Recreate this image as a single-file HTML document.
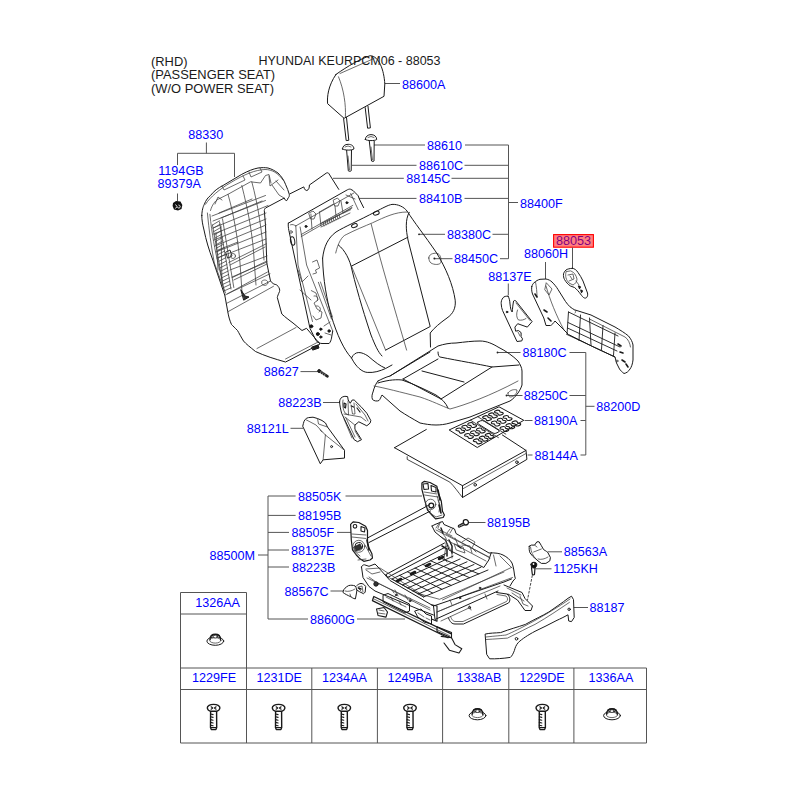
<!DOCTYPE html>
<html><head><meta charset="utf-8">
<style>
html,body{margin:0;padding:0;background:#fff;width:800px;height:800px;overflow:hidden}
svg{position:absolute;left:0;top:0}
.t{font-family:"Liberation Sans",sans-serif;font-size:12.6px;fill:#0000ff}
.h{font-family:"Liberation Sans",sans-serif;font-size:12.9px;fill:#1a1a1a}
.l{stroke:#555;stroke-width:1;fill:none}
.g{stroke:#555;stroke-width:1;fill:none}
.d{stroke:#1a1a1a;stroke-width:1;fill:none;stroke-linejoin:round;stroke-linecap:round}
.dt{stroke:#3a3a3a;stroke-width:.75;fill:none;stroke-linejoin:round;stroke-linecap:round}
.tc{text-anchor:middle}
</style></head><body>
<svg width="800" height="800" viewBox="0 0 800 800">
<!-- header text -->
<text class="h" x="151" y="65.6">(RHD)</text>
<text class="h" x="151" y="79.4">(PASSENGER SEAT)</text>
<text class="h" x="151" y="93.1">(W/O POWER SEAT)</text>
<text class="h" x="258.5" y="65" style="font-size:12.5px">HYUNDAI KEURPCM06 - 88053</text>

<!-- labels -->
<g class="t">
<text x="402" y="88.6">88600A</text>
<text x="427" y="149.6">88610</text>
<text x="419" y="169.8">88610C</text>
<text x="406.3" y="182.8">88145C</text>
<text x="419" y="203">88410B</text>
<text x="520" y="207.5">88400F</text>
<text x="447" y="238.8">88380C</text>
<text x="454" y="263.3">88450C</text>
<text x="524" y="258">88060H</text>
<text x="488.3" y="280.5">88137E</text>
<text x="522.5" y="357">88180C</text>
<text x="523.8" y="400">88250C</text>
<text x="534" y="425">88190A</text>
<text x="534.5" y="459.5">88144A</text>
<text x="596.3" y="410.8">88200D</text>
<text x="188.3" y="139.2">88330</text>
<text x="158.3" y="175.2">1194GB</text>
<text x="157.5" y="188.3">89379A</text>
<text x="263.8" y="376.3">88627</text>
<text x="278.2" y="407">88223B</text>
<text x="246.7" y="433.3">88121L</text>
<text x="298" y="500.6">88505K</text>
<text x="298" y="520">88195B</text>
<text x="291.5" y="537">88505F</text>
<text x="291.1" y="554.6">88137E</text>
<text x="292" y="571.6">88223B</text>
<text x="209.5" y="559.6">88500M</text>
<text x="284.5" y="595.6">88567C</text>
<text x="310" y="623.6">88600G</text>
<text x="487" y="527">88195B</text>
<text x="563.8" y="556.3">88563A</text>
<text x="553.3" y="573.3">1125KH</text>
<text x="589.5" y="612">88187</text>
<text x="195.2" y="607">1326AA</text>
<text class="tc" x="214" y="682.4">1229FE</text>
<text class="tc" x="279.2" y="682.4">1231DE</text>
<text class="tc" x="344.4" y="682.4">1234AA</text>
<text class="tc" x="410" y="682.4">1249BA</text>
<text class="tc" x="479" y="682.4">1338AB</text>
<text class="tc" x="542" y="682.4">1229DE</text>
<text class="tc" x="611" y="682.4">1336AA</text>
</g>
<!-- highlighted 88053 -->
<text x="556" y="245.2" style="font-family:'Liberation Sans',sans-serif;font-size:12.6px;fill:#0000ff">88053</text>
<rect x="553.6" y="234.6" width="39.8" height="12.6" fill="rgba(255,0,0,0.5)" stroke="#ff0000" stroke-width="1.1"/>
<!-- leader lines -->
<g class="l">
<path d="M385 83.5H400"/>
<path d="M374 145H425M465 145H508.5V258.7H500M508.5 165.3H464.5M508.5 178.3H451.5M508.5 198.4H464.5M508.5 202.5H518M508.5 234.3H492.5"/>
<path d="M352 165.3H416.5M333 178.3H403.8M359 198.4H416.5M419 234.3H445M434.4 258.7H452.5"/>
<path d="M572.5 247.5V268M545.5 262V279M508.3 283.5V295"/>
<path d="M206.4 142.5V153.3M177.5 165V153.3H234.5V177M177.5 193.5V201.5"/>
<path d="M300.5 371.6H318M323 402.5H340M290.5 428.3H303"/>
<path d="M569.5 352.5H585.8V455H580.5M569.5 395.5H585.8M580.5 420.5H585.8M585.8 406.3H594.5"/>
<path d="M497.5 352.5H520.5M506.5 395.5H522.5M524.5 420.5H532.5M527.6 455H532.5"/>
<path d="M295.6 496H268V619H308M268 515.4H295.6M268 532.4H289M268 550H289M268 567H289M258 555H268M345.5 496H422M337 532.4H354M330.5 591H344M357 619H405"/>
<path d="M467.5 522.5H485.5M547.5 551.8H562M535.5 568.8H551.5M573.8 607.5H588"/>
</g>
<circle cx="419" cy="234.3" r="0.9" fill="#222"/>
<circle cx="434.4" cy="258.6" r="1" fill="#222"/>
<circle cx="497.5" cy="352.5" r="0.9" fill="#222"/>
<circle cx="506.5" cy="395.5" r="0.9" fill="#222"/>
<!-- DRAWINGS -->
<g class="d" id="headrest">
<path d="M336,74.4 C348,66 360,59 370.2,55.7 C379,56 384,70 384.8,84 L384,96.3 L344.1,118.3 L327.6,103.7 C327,97 328,86 336,74.4Z"/>
<path class="dt" d="M338.5,76.8 C344,90 346,105 345.4,116.7"/>
<path class="dt" d="M340,73.5 L374,58.5"/>
<path d="M343.6,118.6 L346.2,140.6 L348.8,140.3 L346.5,117.5"/>
<path d="M365.2,107.6 L367.6,128.2 L370.4,127.9 L368,106.4"/>
<path d="M346.6,150 L348.3,170.8 C349,171.5 350.5,171.5 351.2,170.8 L351.5,150"/>
<path class="dt" d="M348,156 L349.5,170"/>
<path d="M342.5,149 C342.5,146 345,144.3 348.2,144.3 C351.5,144.3 354,146 353.9,149 C352,150.5 344.5,150.5 342.5,149Z" fill="#fff"/>
<path class="dt" d="M345,147 L348,146 L351,147"/>
<path d="M369.3,141 L371.5,161 C372.2,161.7 373.4,161.7 374,161 L374.2,141"/>
<path class="dt" d="M371,147 L372.5,160"/>
<path d="M365.3,139.5 C365.3,136.5 368,134.6 371,134.6 C374.3,134.6 376.7,136.5 376.7,139.5 C375,141 367,141 365.3,139.5Z" fill="#fff"/>
<path class="dt" d="M368,137.5 L371,136.5 L374,137.5"/>
</g>
<g class="d" id="p88330">
<path d="M201.8,215.5 C202,210 203,207 204.3,204.3 C206,200 208,197.5 210.5,195.5 C214,191 218,188 223,185.5 L241.8,174.3 C248,171 253,169 258,168 C262,167.5 265,167.5 268,168 C272,169 275,171 278,173 C281,176 284,180 285.5,184.3 C287,188 288.5,191 289.3,194.3 C289.5,196 289,197.5 288,198 C287.5,200 287,200.5 286.8,200.5 C285.5,200.5 284.5,199.5 284.3,198 L265.5,208 C264.5,209 264.3,210 264.3,210.5 L265.5,225.5 L266.8,263 L270.5,281 L273.5,284 C276,284.5 277.5,285 278,286.3 C279.5,288 280,290 279.5,291.5 C278.5,294 277.5,296 277.3,297.5 L281.8,314 C285,317 289,320 293,323 L302,330.5 L306.5,328.3 L320,344 L290,359.8 L285.5,362 C275,359 265,356 255.5,351.5 C250,347 246,344 243.5,341 C241,337 239,333 237.5,330.5 C235,328 233,326 231.5,324.5 C229.5,320 228.5,316 227.8,311.8 L224.8,295.3 L212.8,260 C209,250 206,240 204,230 C202.5,224 201.8,220 201.8,215.5Z"/>
<path class="dt" d="M205.5,204.3 C210,197 220,189 230,183 C245,174 255,170 265,169.5 C272,169.5 278,173 283,180"/>
<path class="dt" d="M207.4,213 C209,230 211,245 214.3,263 L225.5,293 M209.9,214.3 C212,235 215,250 218,263 L222,280"/>
<path class="dt" d="M285.5,359 L318.5,341.8 M257,348.5 L296,327.5"/>
<path class="dt" d="M224.8,295.3 L267.5,272 M226.3,303.5 L270.5,281 M227.8,311.8 L273.5,286.3"/>
<path class="dt" d="M210.5,210.5 C212,205 215,201 218,199.3 L228,194.3 L250.5,181.8 L260.5,183 L265.5,175.5 L269,174.5 L271,183 M215,204 L218,197 L222,200 M269,176 L270,186 L278,180"/>
<path d="M212,216 L265.5,195.5 M213,221 L265.5,200.5 M213,228 L268,205.5 M213.5,234 L266,213 M214,240 L266,219 M215,246 L266,225 M216,252 L266,232 M217,258 L266,239 M218,250 L238,242 M230,270 L267,256 M232,277 L267,262 M221,226 L222,286 M216,233 L218,270" class="dt"/>
<path class="dt" d="M228,194.3 C234,215 238,240 240,263 L242,292 M241.8,185.5 C248,210 253,235 254.3,263 L256,285 M251.8,181.8 C258,205 262,230 264,260 M219,213 L252,199 M221,218 L262,201 M222,186 L224,190 L245,180 L243,176 M249,172 L251,177 L262,172 L260,168"/>
<path class="dt" d="M272,185 L279,195 L284,198 M276,181 L284,190"/>
<path class="dt" d="M212.5,225 L224,291 M219.5,222 L231,289 M212.5,225.0 L219.5,220.8 M213.1,228.3 L220.1,224.2 M213.7,231.6 L220.7,227.5 M214.2,234.9 L221.2,230.9 M214.8,238.2 L221.8,234.2 M215.4,241.5 L222.4,237.6 M215.9,244.8 L222.9,240.9 M216.5,248.1 L223.5,244.2 M217.1,251.4 L224.1,247.6 M217.7,254.7 L224.7,251.0 M218.2,258.0 L225.2,254.3 M218.8,261.3 L225.8,257.7 M219.4,264.6 L226.4,261.0 M220.0,267.9 L227.0,264.4 M220.6,271.2 L227.6,267.7 M221.1,274.5 L228.1,271.1 M221.7,277.8 L228.7,274.4 M222.3,281.1 L229.3,277.8 M222.8,284.4 L229.8,281.1 M223.4,287.7 L230.4,284.4 M224.0,291.0 L231.0,287.8"/>
<path class="dt" d="M228.8,262.5 L266.3,243.8 M230,265 L265,247 M232.5,277.5 L266.3,261.3 M233.8,280 L267,264 M227.5,293.8 L270,273.8 M222.5,218.8 C226,240 230,265 233.8,287.5"/>
<path d="M226,252 L230,250 L232,256 L228,258 Z" stroke-width=".9"/>
<path d="M241,290 L245,296 L249,297 L244,300 Z" fill="#333"/>
<circle cx="233" cy="256" r="2.5" class="dt"/>
<path class="dt" d="M262,281 C264,279 268,280 268,283 C267,286 263,286 262,284 Z"/>
</g>
<path d="M173,203 L176,201 L180.5,201.5 L182.3,205 L181.5,209 L178,210.6 L174,209.5 L172.6,206 Z" fill="#111"/>
<path d="M175.5,204.5 L177,206.5 L175.5,208.5 M178.5,205 C180,205 180.5,206.5 180,207.5 C179,208.5 177.5,208 177.5,207" stroke="#fff" stroke-width=".9" fill="none"/>

<g class="d" id="board">
<path d="M290,193.8 L303.8,186.9 C304.5,190 306,190.5 306.9,190.5 C308.5,190 309.5,188 309.4,185 L326.3,173.1 C327.5,172.5 328.5,172.8 328.8,173.5 L338.8,189.4"/>
</g>
<g class="d" id="frame">
<path d="M288.3,223.2 L347.4,189.8 C349,189 350,189 350.7,189.3 C352.5,190 354,191 355,192.5 L358.2,195.8 L359.3,199 L363.6,207.6"/>
<path d="M288.3,223.2 C288,226 288.5,228 288.8,230.2 L309,323.9 L310.1,328.6 L313.7,335.8 L316,340.5 C318,342.5 320,343.5 322,343.5 L329.1,343.5 C330.5,342 331.2,340 331.5,338.1 L332.7,331"/>
<path class="dt" d="M295.8,225.9 L353.9,193 M295.8,225.9 L298,265 L312.5,321.5 M300.1,227 L306.6,265 L332.7,331 M301.2,234.5 L352.8,205.4 M301.2,236.6 L351.7,207.6 M350.7,193.6 L358.2,209.7 M290.5,224.8 C293,224 294,225 295.8,225.9"/>
<path class="dt" d="M320.6,223.7 L350.7,209.7 M321,227 L350,213 M323,222 L324,226 M325,221 L326,225 M327,220 L328,224 M329,219 L330,223 M331,218 L332,222 M333,217 L334,221 M335,216 L336,220 M337,215 L338,219 M339,214 L340,218"/>
<path class="dt" d="M310.9,214 L312,229 M309,213 L313,211 L316,214 L314,219 L311,219 Z M333.5,200 L337.5,198 L340,201 L338,206 L335,206Z M335,206 L336,216 M319.5,212 L321,226 M319.5,212 L333.5,204 M341,201 L343,213 L352,208 M346,195 L355,199"/>
<circle cx="306" cy="226.4" r="1" fill="#111"/>
<circle cx="346.9" cy="202.7" r="1" fill="#111"/>
<ellipse cx="292.6" cy="240.9" rx="2.1" ry="4.3" transform="rotate(-10 292.6 240.9)"/>
<circle cx="291" cy="232" r="1.3" class="dt"/>
<path class="dt" d="M312.5,262 L317,260 L319.6,268 L315.5,270 L316.5,273 L313,274 M318.4,282.3 L331.5,319.1 M320.5,282 L332.5,317 M298,270 L302,282 L308,276 M300,290 L311,300"/>
<path class="dt" d="M311.3,290.6 L316,293 L318,300 L314,303 L317,309 L322,312 L321,318 L316,320 L313,316 M314,296 C317,295 319,299 317,301 M316,306 C320,305 322,310 319,312"/>
<circle cx="311.3" cy="326.3" r="1.5" fill="#111"/>
<circle cx="317.8" cy="334" r="1.5" fill="#111"/>
<circle cx="320.8" cy="329.2" r="1.1" fill="#111"/>
<circle cx="329.1" cy="331" r="1.2" fill="#111"/>
<circle cx="320.8" cy="337" r="1.1" fill="#111"/>
<path class="dt" d="M324,326 L330,322 M325,333 L331,335"/>
<path d="M312,347 L318,345 L319,348 L313,350Z" fill="#222"/>
</g>
<g class="d" id="cushion">
<path d="M322.6,258.2 C324,246 328,238 336,232 C344,227 360,220 375,212 C383,208 388,205 392,204.4 C398,204 404,207 407,211 C414,222 425,236 436,252 C446,268 453,285 455.2,300.2 C456,308 453,314 447,318 C440,323 434,328 430.2,333 L430.5,347"/>
<path d="M322.6,258.2 C323,280 327,300 331,315 C337,335 344,350 351.5,358 C356,367 362,372 367.2,372.4 C374,373 380,371 385.6,368.5 L392,365"/>
<path class="dt" d="M335.7,253 C338,243 342,236 346.2,234.6 C355,230 365,226 372.5,222.8 C385,217 395,212 407,212"/>
<path d="M338.4,245 C345,250 350,260 352,270 C358,295 366,320 371,335 C375,345 378,352 382,356"/>
<path d="M351.5,266.1 L407.9,237.2 M409.2,212.3 C405,220 406,230 408,240 L430.2,326.5 L385.6,350.1"/>
<path class="dt" d="M371.2,224.1 C380,260 395,310 406.6,350.1 M351.5,266.1 L385.6,350.1"/>
<path d="M351.5,358 C355,350 362,352 368,356 C375,362 380,366 385,368"/>
<ellipse cx="354.4" cy="225.6" rx="3" ry="1.8" transform="rotate(-20 354.4 225.6)"/>
<ellipse cx="376.3" cy="213.1" rx="3" ry="1.8" transform="rotate(-20 376.3 213.1)"/>
<path class="dt" d="M428.8,258 C428.5,254.5 433,252.8 437,253.3 C440.5,254 441.5,259 440.8,262.5 C440,265 434,265 431,263 C429.5,262 429,260 428.8,258Z"/>
</g>

<g class="d" id="seat">
<path d="M378,381 C382,379 386,377 390,376 L438,346 C444,344 450,343 456,343 C465,342 472,341 480,341 C487,341 493,344 498,347 C506,351 513,356 518,361 C520,364 522,368 522,371 L522,385 C521,388 520,390 518,393 C515,397 513,399 510,401 L470,417 L450,423 C445,424.5 440,425 436,425 C430,425 425,424 420,423 C413,419 406,415 400,411 L382,395 C381,397 380,399.5 379,400.5 C377,401.5 374,401 372.5,399.5 C371.5,397 372,394.5 373,392 C374,388 376,383 378,381Z"/>
<path d="M378,383 C384,381 394,379 402,380 C414,384 426,390 436,395 C442,399 446,403 448,408"/>
<path class="dt" d="M374,386 C385,388 400,392 420,397 C432,401 442,406 450,409 C465,405 490,396 518,381"/>
<path d="M403,379 L438,359 M438,352 C438,355 439,357 440,357 C460,361 478,364 492,367 L519,365 M492,367 L441,399 M403,379 L441,399 M422,371 L464,382 M390,376 L430,352"/>
<path class="dt" d="M508,393 C510,390 514,389 517,390 C517,393 515,396 511,397 C509,397 508,396 508,393Z"/>
</g>
<g class="d" id="pads">
<path d="M449.5,429.8 L499,406.8 L523.8,420.3 L477.6,447.3 Z"/>
<g transform="matrix(0.495,-0.2305,0.281,0.1745,449.5,429.8)">
<rect x="44" y="18" width="12" height="64" rx="3" ry="8" vector-effect="non-scaling-stroke"/>
<path d="M42,0 L42,100 M57,0 L57,100" vector-effect="non-scaling-stroke" stroke-width=".8"/>
<path d="M6.5,13.0 C6.5,6.0 15.5,6.0 15.5,13.0 L13.5,19.0 L15.5,25.0 C15.5,32.0 6.5,32.0 6.5,25.0 L8.5,19.0 Z" vector-effect="non-scaling-stroke" stroke-width="1.1"/>
<path d="M6.5,44.0 C6.5,37.0 15.5,37.0 15.5,44.0 L13.5,50.0 L15.5,56.0 C15.5,63.0 6.5,63.0 6.5,56.0 L8.5,50.0 Z" vector-effect="non-scaling-stroke" stroke-width="1.1"/>
<path d="M6.5,75.0 C6.5,68.0 15.5,68.0 15.5,75.0 L13.5,81.0 L15.5,87.0 C15.5,94.0 6.5,94.0 6.5,87.0 L8.5,81.0 Z" vector-effect="non-scaling-stroke" stroke-width="1.1"/>
<path d="M18.5,13.0 C18.5,6.0 27.5,6.0 27.5,13.0 L25.5,19.0 L27.5,25.0 C27.5,32.0 18.5,32.0 18.5,25.0 L20.5,19.0 Z" vector-effect="non-scaling-stroke" stroke-width="1.1"/>
<path d="M18.5,44.0 C18.5,37.0 27.5,37.0 27.5,44.0 L25.5,50.0 L27.5,56.0 C27.5,63.0 18.5,63.0 18.5,56.0 L20.5,50.0 Z" vector-effect="non-scaling-stroke" stroke-width="1.1"/>
<path d="M18.5,75.0 C18.5,68.0 27.5,68.0 27.5,75.0 L25.5,81.0 L27.5,87.0 C27.5,94.0 18.5,94.0 18.5,87.0 L20.5,81.0 Z" vector-effect="non-scaling-stroke" stroke-width="1.1"/>
<path d="M30.5,13.0 C30.5,6.0 39.5,6.0 39.5,13.0 L37.5,19.0 L39.5,25.0 C39.5,32.0 30.5,32.0 30.5,25.0 L32.5,19.0 Z" vector-effect="non-scaling-stroke" stroke-width="1.1"/>
<path d="M30.5,44.0 C30.5,37.0 39.5,37.0 39.5,44.0 L37.5,50.0 L39.5,56.0 C39.5,63.0 30.5,63.0 30.5,56.0 L32.5,50.0 Z" vector-effect="non-scaling-stroke" stroke-width="1.1"/>
<path d="M30.5,75.0 C30.5,68.0 39.5,68.0 39.5,75.0 L37.5,81.0 L39.5,87.0 C39.5,94.0 30.5,94.0 30.5,87.0 L32.5,81.0 Z" vector-effect="non-scaling-stroke" stroke-width="1.1"/>
<path d="M60.5,13.0 C60.5,6.0 69.5,6.0 69.5,13.0 L67.5,19.0 L69.5,25.0 C69.5,32.0 60.5,32.0 60.5,25.0 L62.5,19.0 Z" vector-effect="non-scaling-stroke" stroke-width="1.1"/>
<path d="M60.5,44.0 C60.5,37.0 69.5,37.0 69.5,44.0 L67.5,50.0 L69.5,56.0 C69.5,63.0 60.5,63.0 60.5,56.0 L62.5,50.0 Z" vector-effect="non-scaling-stroke" stroke-width="1.1"/>
<path d="M60.5,75.0 C60.5,68.0 69.5,68.0 69.5,75.0 L67.5,81.0 L69.5,87.0 C69.5,94.0 60.5,94.0 60.5,87.0 L62.5,81.0 Z" vector-effect="non-scaling-stroke" stroke-width="1.1"/>
<path d="M72.5,13.0 C72.5,6.0 81.5,6.0 81.5,13.0 L79.5,19.0 L81.5,25.0 C81.5,32.0 72.5,32.0 72.5,25.0 L74.5,19.0 Z" vector-effect="non-scaling-stroke" stroke-width="1.1"/>
<path d="M72.5,44.0 C72.5,37.0 81.5,37.0 81.5,44.0 L79.5,50.0 L81.5,56.0 C81.5,63.0 72.5,63.0 72.5,56.0 L74.5,50.0 Z" vector-effect="non-scaling-stroke" stroke-width="1.1"/>
<path d="M72.5,75.0 C72.5,68.0 81.5,68.0 81.5,75.0 L79.5,81.0 L81.5,87.0 C81.5,94.0 72.5,94.0 72.5,87.0 L74.5,81.0 Z" vector-effect="non-scaling-stroke" stroke-width="1.1"/>
<path d="M84.5,13.0 C84.5,6.0 93.5,6.0 93.5,13.0 L91.5,19.0 L93.5,25.0 C93.5,32.0 84.5,32.0 84.5,25.0 L86.5,19.0 Z" vector-effect="non-scaling-stroke" stroke-width="1.1"/>
<path d="M84.5,44.0 C84.5,37.0 93.5,37.0 93.5,44.0 L91.5,50.0 L93.5,56.0 C93.5,63.0 84.5,63.0 84.5,56.0 L86.5,50.0 Z" vector-effect="non-scaling-stroke" stroke-width="1.1"/>
<path d="M84.5,75.0 C84.5,68.0 93.5,68.0 93.5,75.0 L91.5,81.0 L93.5,87.0 C93.5,94.0 84.5,94.0 84.5,87.0 L86.5,81.0 Z" vector-effect="non-scaling-stroke" stroke-width="1.1"/>
</g>
</g>
<g class="d" id="board144">
<path d="M394.5,447.7 L426.3,429.5 M502.4,435 L526,450.4 L526.9,459.4 L462.5,497.5 L462.5,485.7 L394.5,447.7"/>
<path d="M462.5,485.7 L526,450.4"/>
<path class="dt" d="M462.5,489 L526,453.5"/>
<path d="M407.2,456.7 L407.2,459.4 L449.8,482.1 C454,486 458,492 462.5,497.5" stroke-width=".8"/>
<circle cx="516.9" cy="462.2" r="1.3"/>
<circle cx="475.2" cy="484.8" r="1.3"/>
</g>
<g class="d" id="covers">
<path d="M303.4,423.3 C304,420 306,418 308.5,417.6 L313,417.2 L317.5,418.5 L322,420.5 L325.5,423 L327.5,427 L344.5,450.3 L344.5,458.1 L323.1,459.8 L320.3,463.8 L302.9,426.6 Z"/>
<path class="dt" d="M325.4,435 L344.5,450.3 M325.4,435 L323.1,459.8 M306.3,419.9 L316,425 L325.4,435 M317.5,418.5 L318.5,424 L327.5,427 M320,430 L322,432"/>
<circle cx="331.6" cy="446.6" r="1"/>
<path d="M339.6,401.9 C339.8,400 340.2,399 341,398 C342,397 343.5,396.4 344.9,396.3 L347.6,396.6 L348.2,400 L350.2,403.3 L352.2,400 L354.2,400 L361.5,407.2 L366.8,413.2 L370.8,420.5 L370.1,423.1 L366.8,425.8 L358.8,421.8 L354.9,425.1 L354.9,429.1 L361.5,439.7 L357.5,441.7 L354.2,439.7 L341.6,413.2 C340.5,409 339.7,405 339.6,401.9Z"/>
<path class="dt" d="M343,400 C342,404 343,410 345,413 L348.5,415 L348,401 M351,405 L352.5,414 L355,414 L354,403 M356,404 L365,415 L368,421 M344,414 L361,417 L366,421 M345,417 L354.9,425.1 M344,419 L352,438 M346,418 L355,437 M355,431 L360,439"/>
<path d="M344,403 L346,404 L345.5,408 L344,407Z M351.5,406 L353.5,407 M357,408 L360,412" stroke-width="1.2"/>
</g>
<g class="d" id="pin627">
<path d="M319.5,371.2 L327.5,376.3" stroke-width="2.6" stroke="#222"/><circle cx="319.2" cy="371" r="1.5" fill="#222"/><path d="M321,371.5 L320.5,373.5 M323,372.8 L322.5,374.8 M325,374 L324.5,376" stroke="#fff" stroke-width=".5"/>
</g>
<g class="d" id="shield">
<path d="M531.8,286.5 C532.5,284.5 533,283.5 534,282.8 C536,281 538,279.8 540,279.3 L546,279 C548.5,279.5 550.5,280.5 552,282 C554.5,284.5 556.5,287 558,289.5 L565.5,301.5 C567,303.5 568.5,305.5 570,306.8 C571.5,308 573,309 574.5,309.8 L591,315 L615,327 C620,330 625,333 628.5,336 C631,339 632.5,342 633,345 L633,360 C632.5,364 631.5,367 630,369 C628.5,371.5 626.5,373 624,373.5 C622,372 620.5,370.5 619.5,369 L616.5,363 L615,357 L592.5,346.5 L568.5,334.5 L564,330 L555,321 C553.5,323 552,325 550.5,325.5 L546,325.5 L543.8,318 L532.5,294 C531.5,291 531.5,288.5 531.8,286.5Z"/>
<path class="dt" d="M535.5,282 C536.5,287 537,292 537,297 M546,286 C550,300 556,315 564,330 M546.5,283 L552,289 L549,295 L545,290Z"/>
<path stroke-width=".9" d="M568.5,312 L618,336 M567,334.5 L615,357 M568.5,312 L567,334.5 M580.5,315 L579,340.5 M589.5,318 L591,345 M603,325.5 L601.5,349.5 M615,333 L613.5,355.5 M568,322.5 L620,347 M567.5,328 L617,351"/>
<path class="dt" d="M589.5,319 L625,337 C628,339 630,343 630.5,347 M574.5,309.8 C576,311 576,312 575,313"/>
<path d="M535,294 L537,297 M544,310 L547,312 M548,318 L551,321 M620,352 L623,353 M622,360 L625,362 M626,364 L628,367 M618,344 L621,346" stroke-width="1.6"/>
<circle cx="617" cy="361" r="1" class="dt"/>
<path d="M508.1,296.2 C506,296 504,296.5 503.2,297.6 C501.5,299.5 501,302 501.2,303.7 C501.3,306.5 501.8,308.5 502.6,310.6 L517,341.5 L521.8,340.9 L522.5,338.8 L521.1,336.7 L521.1,332.6 L518.4,330.5 L515.6,331.2 L514.9,327.1 L517.7,323.7 L527.3,327.1 L532.1,321.6 L515.6,300.7 C514.5,300.3 514,300.5 513.6,301 C512.8,305 512.5,309 512.2,312 C511,311 510.5,308 510,304 C509.8,301 509.5,298.5 508.1,296.2Z"/>
<path class="dt" d="M516,303 L530,320.5 M517.5,310 C516,314 516.5,318 518.5,320 C521,320.5 524,320 526,318.5 M518,332 L520,336"/>
<circle cx="507" cy="312" r=".8" fill="#333"/>
<path d="M572.5,268.3 C569.5,268.5 567.5,269 566,270 C564.5,271.5 563.7,273 563.5,274 C563.3,276 563.7,278 564.5,279.5 C566,282 568,284.5 570.5,286 L574.5,287.5 C577,289.5 579,292 580.5,294 C582,296 583,297.5 584.5,298 C585.5,298.3 586.5,298 587,297 C587.7,296 587.8,294.5 587.5,293 C586,289 584.5,285 583,281 C581.5,278 580,275 578,272.5 C576.5,270 574.5,268.5 572.5,268.3Z"/>
<path class="dt" d="M566,272 C565,276 566,280 569,283 L573,285 C575,284 577,282 577,279 C576,275 574,272 571,271 Z M568,275 L573,274 L574,279 L569,281 M570,276 L572,279 M576,281 L579,285"/>
<path d="M578.5,286 L580.5,287 L579.5,288.5Z M580.8,290 L582.5,291 L581.5,292.5Z" stroke-width="1.2" fill="#222"/>
</g>

<g class="d" id="seatframe">
<!-- recliner right 88505K -->
<path d="M421.9,483.1 L424.4,481.3 L430,482.5 L436.9,486.3 L438.1,492.5 L441.3,501.3 L442.5,511.3 L444.4,515 L443.1,517.5 L435.6,518.8 L431.9,515 L427.5,510 L425,501.3 L421.9,489.4 Z" fill="#fff" stroke-width="1.2"/>
<path d="M423,484 L428,483.5 L428.5,489 L424,489.5Z M431,485.5 L436,487.5 L436,492 L431.5,491Z" stroke-width="1.1"/>
<path class="dt" d="M424,492 L437,494 M424.5,495 L438,497 M437,496 L440,505 L439,512 M430,513 L436,517 L442,515 M438,500 L441,510"/>
<circle cx="430.6" cy="504.4" r="5.2" class="dt"/>
<circle cx="431.3" cy="505.6" r="2.4" stroke-width="1.3"/>
<path d="M438,490 L440,500 M439,505 L441,513" stroke-width="1.6"/>
<!-- rod 88195B -->
<path d="M367.5,538 L429,505 M369,542.5 L430.5,511"/>
<!-- recliner left 88505F -->
<path d="M350.6,524.4 L353.1,521.9 L358.8,522.5 L365.6,526.3 L367.5,530.6 L367.5,543.1 L368.8,547.5 L371.9,553.8 L372.5,558.1 L370,560 L363.8,561.3 L360,558.8 L356.3,555 L352.5,550 L351.3,540 Z" fill="#fff" stroke-width="1.2"/>
<circle cx="355" cy="526.3" r="1.8" stroke-width="1.1"/>
<path d="M361,526.5 L365,528 L364.5,532 L361,531Z" stroke-width="1.1"/>
<path class="dt" d="M352,534 L366,535 M352,537 L366,538.5 M365,545 L371,556 M358,560 L366,559 M353,550 L360,556"/>
<circle cx="358.8" cy="546.3" r="6" class="dt"/>
<circle cx="358.8" cy="546.3" r="3.8"/>
<path d="M354,547 L360,544 L362,548 L356,551Z" fill="#333" stroke-width=".8"/>
<path d="M367,540 L369,550" stroke-width="1.6"/>
<!-- back rod -->
<path d="M386,574.5 L444.5,543 M387.5,577.5 L446,546.8 M386,574.5 L387.5,577.5"/>
<!-- right side member -->
<path d="M432,526 L435,524.5 L442.5,521.5 L444,524.5 L454.5,529 L456,533.5 L489,553 C495,552.5 500,553.5 503,555 C507,557 510,559.5 512,563 C513.5,567 514,571 514.5,575 L515.3,578.5 L513,581 L510,586"/>
<path d="M432,526 L435,532 L446,541 L449,550 L483.8,567.5 L488.8,560 L491.3,552.5"/>
<path class="dt" d="M438,529 L452,536 M446,534 L490,558 M455,538 L458,545 M446,541 L452,553 L452,558 M462,545 L470,546 L472,553 M493.5,555 L496,566 M500,556 L512,568 M442.5,600 L511.3,567.5 M455,598.8 L512.5,577.5 M436,528 L440,522 M440,530 L446,538 L446,546 M450,533 L453,528 M462,542 L468,538 L475,542 L472,548"/>
<path d="M442,546 L447,549 L447,556 M449,540 L452,546 L452,553" stroke-width="1.5"/>
<path class="dt" d="M436,530 L489,557 M441,537 L486,561 M454.5,544 L463,547 L465,553 L456.5,550Z M447,533 L450,529 M472,548 L476,552 M440,523 L438,528 M446,546 L444,558 L447,562"/>
<path d="M441,528 L443,533 M458,546 L461,548" stroke-width="1.4"/>
<!-- left side member -->
<path d="M361.5,567 C362,565.5 363,564.8 364.5,564.8 L369,566.3 L375,564 L378,567 L390,580.5 L433.5,606"/>
<path d="M361.5,567 L363,577.5 L369,586.5 L375,591 L421.5,610.5 L433.5,615"/>
<path d="M433.5,606 L435,619.5 L498,591 M433.5,606 L504,582 L511.5,579"/>
<path class="dt" d="M366,570 L372,574 L380,572 M367,578 L388,588 L430,608 M386,576 L422,595.5 M420,594 L439.5,599.3 L504,572 M437,612 L500,586 M469.5,606 L471,610 M450,600 L452,605 M485,594 L487,599 M395,590 L398,596 M405,595 L408,600"/>
<circle cx="376" cy="584" r="2.2" fill="#333"/>
<path class="dt" d="M366,569 L380,568 L424,596 M369,577 L376,582 L430,610 M392,590 L394,593 M410,598 L412,601"/>
<circle cx="396" cy="595" r=".8"/><circle cx="410" cy="601" r=".8"/><circle cx="460" cy="598" r=".8"/><circle cx="480" cy="588" r=".8"/><circle cx="469.5" cy="607.5" r="1.1"/>
<!-- wire grid -->
<path stroke-width=".95" d="M397.2,582.0 L453.0,556.2 M402.5,585.0 L460.0,559.0 M407.8,588.0 L467.0,561.8 M413.0,591.0 L474.0,564.5 M418.2,594.0 L481.0,567.2 M399.7,575.4 L432.7,593.1 M407.4,571.7 L441.9,589.3 M415.1,568.1 L451.1,585.4 M422.9,564.4 L460.4,581.6 M430.6,560.8 L469.6,577.7 M438.3,557.1 L478.8,573.9 M392,579 L446,553.5 M423.5,597 L488,570 M392,579 L423.5,597"/>

<path d="M397,581 L401,579 M411,574 L415,572 M426,566 L430,564 M439,559 L443,557" stroke-width="2.6"/>
<!-- left track -->
<path d="M373.8,596.5 L450.8,633.6 M372.4,600.6 L448,637.8 M373.8,596.5 L372.4,600.6" stroke-width="1.2"/>
<path class="dt" d="M373,598.5 L449.5,635.7"/>
<path d="M383.4,595.1 L388,593.5 L409.5,604 L409.5,611 L405,613 L383.4,602 Z" stroke-width="1"/>
<path class="dt" d="M386,597 L406,607 M391,597 L393,601 M399,601 L401,605"/>
<path d="M437,626.8 L451.5,632.5 L451.5,637.8 L437,631.5Z" stroke-width="1.1"/>
<path d="M441.2,636.4 L451.5,637.8 L455,644.6 L461.8,648.8 L459,653 L449.4,650.2 L444,643" stroke-width="1.1"/>
<path d="M376.5,609 L384,607.5 L387.5,612 L386,617.1 L378,615.5 Z" stroke-width="1.1"/>
<path class="dt" d="M379,610 L384,611 M378,613 L385,614"/>
<path d="M415,611 L421,609 L426,614 L431.5,616 L431.5,624 L424,622 L418,617 Z" stroke-width="1"/>
<path class="dt" d="M418,613 L424,617 M426,618 L430,620"/>
<path d="M431.5,604.8 L437,606 L437,621.3 L431.5,619" stroke-width="1.1"/>
<path class="dt" d="M437,612 L470,598 M441,621 L470,607.5"/>
<!-- right track -->
<path d="M504,585 L522,592.5 L525,598.5 L532.5,606 L531,610.5 L525,610.5 L517.5,600 L508,594"/>
<path class="dt" d="M507,588 L521,595 M512,593 L524,601 M520,596 L523,604 L528,606"/>
<!-- towel bar -->
<path d="M448.5,618 C450,622 452,624 455,624 L463.5,624 L508.5,603 C510.5,601 510.5,597 507,594 L496.5,592.5" stroke-width="1"/>
<path d="M450.5,616.5 C452,620 453,621.5 456,621.5 L463,621.5 L506.5,601.5 C508,600 508,598 506,596 L497,594.5" class="dt"/>
</g>
<g class="d" id="smallparts">
<path d="M343.1,591.2 C343.5,589 346,587 348.6,585.6 C351,585 353,585.2 355,585.9 C356.5,587.5 357,590 356.7,592 L355.4,598.9 C353,598.5 352,597.5 350.8,596.7 C348,595.5 345,594 343.5,592.9Z"/>
<path d="M356.7,585.7 C358,584.5 359.5,583.5 361,583.5 C362.5,583.5 364,584 365.7,586.5 L365.2,592 C364.5,593 364,593.5 363.5,593.7 L359.3,591.6 L356.9,590" />
<path class="dt" d="M345,591 C348,592 352,591 355,589 M350,594 L351,597 M358,587 L362,586 L363,592 M359,589 L361,591"/>
<path d="M358.5,588 L361,589" stroke-width="1.6"/>
<path d="M458.5,525.5 L464,522.5 M459.5,527 L465,524.5 M458.5,525.5 C458,526.5 458.5,527.5 459.5,527" stroke-width="1.1"/>
<path d="M463.5,520.5 C465,519 467.5,519.3 468.3,521.5 C469,523.5 467.5,525 465.5,525 C464,525 463,522.5 463.5,520.5Z" fill="#fff" stroke-width="1.3"/>
<path d="M460,525.5 L463,524" stroke-width=".7"/>
<path d="M529.3,546.3 L531.3,545.1 L534.6,545.1 L536.9,541.8 L539.1,541.8 L541.4,545.7 L543.6,549.6 C546,551 547.5,552 548.1,553 L550.4,557.5 L549.8,560.9 L545.9,563.4 L541.4,563.4 L538,560.9 L532.9,556.4 L530.1,553 C529,550.5 529,548 529.3,546.3Z"/>
<path class="dt" d="M530.5,547 C531,552 533,556 536,559 M533.6,552 L541.4,549 M538,559 C541,560 545,559 548,557 M534.6,545.1 L537,547"/>
<path d="M531.5,567.7 L532.3,574.3 C533,575 534,575 534.5,574.3 L535,567.7" stroke-width="1.2"/>
<path d="M531,564.5 C531,562.5 532.5,562.3 534,562.3 C535.8,562.3 537,563 536.8,565 C536.5,567.5 535,568 533.8,568 C532,568 531,567 531,564.5Z" fill="#111" stroke-width="1"/>
<circle cx="533.5" cy="564" r=".9" fill="#fff" stroke="none"/>
<path d="M532.3,575.5 L527.5,600" stroke-dasharray="2,2" stroke-width=".8"/>
<path d="M485.5,634 C490,633 495,633 500.6,632.6 C510,629 518,627 525.4,624.4 C535,619 542,616 548.8,612 C556,607 562,603 568,598.3 L571.5,596.2 L573.5,599.6 L574.2,617.5 L571.5,621.6 L568.7,621 L568,614.8 C564,617 560,619 557,620.3 C550,624 542,628 535,631.3 C528,635 522,639 518.5,642.3 C516,645 515,648 514.4,650.5 C513,654 512,656 510.3,657.4 C503,658.5 496,659 489.6,658.8 L486.9,654.7 Z"/>
<path class="dt" d="M486.2,639.5 C495,639 502,638.5 507.5,638.1 C518,633 527,628 535,624.4 C548,617 558,610 569.4,602.4 M486,637 C495,636 502,635.5 506,635 C518,630 545,616 570,599"/>
<circle cx="516.5" cy="638.8" r="1.3"/>
<circle cx="569.1" cy="609.3" r="1.2"/>
</g>
<g class="d" id="hardware">
<g transform="translate(215.3,640.2)">
<ellipse cx="0" cy="0.9" rx="8.4" ry="4.2"/>
<ellipse cx="0" cy="0.2" rx="5.6" ry="2.7" class="dt"/>
<path d="M-5.3,-0.5 C-5.5,-4.5 -3,-6 0,-6 C3,-6 5.5,-4.5 5.3,-0.5" stroke-width="1.3"/>
<path d="M-3.8,-4.5 C-2,-5.8 2,-5.8 3.8,-4.5" stroke-width="1.6"/>
<ellipse cx="0" cy="-3.6" rx="2" ry="1.4" fill="#fff" stroke-width=".7"/>
</g><g transform="translate(213.6,0)">
<path d="M-6.3,708 C-6.5,705.5 -3.5,704.4 0,704.4 C3.5,704.4 6.5,705.5 6.3,708 C6,710 4,711 3,711.3 L-3,711.3 C-4,711 -6,710 -6.3,708Z" stroke-width="1.4"/>
<path d="M-3,711.5 L-3.1,727.5 L-2.3,729.5 L2.3,729.5 L3.1,727.5 L3,711.5" stroke-width="1.4"/>
<path d="M-3,714 L-0.5,714.6 M-3,716.8 L-0.5,717.4 M-3,719.6 L-0.5,720.2 M-3,722.4 L-0.5,723 M-3,725.2 L-0.5,725.8 M-2.8,727.5 L2.8,727.5 M-2.5,706.8 L-0.8,708 L-2.5,709.2 M2.5,706.8 L0.8,708 L2.5,709.2" stroke-width="1.1"/>
</g><g transform="translate(278.6,0)">
<path d="M-6.3,708 C-6.5,705.5 -3.5,704.4 0,704.4 C3.5,704.4 6.5,705.5 6.3,708 C6,710 4,711 3,711.3 L-3,711.3 C-4,711 -6,710 -6.3,708Z" stroke-width="1.4"/>
<path d="M-3,711.5 L-3.1,727.5 L-2.3,729.5 L2.3,729.5 L3.1,727.5 L3,711.5" stroke-width="1.4"/>
<path d="M-3,714 L-0.5,714.6 M-3,716.8 L-0.5,717.4 M-3,719.6 L-0.5,720.2 M-3,722.4 L-0.5,723 M-3,725.2 L-0.5,725.8 M-2.8,727.5 L2.8,727.5 M-2.5,706.8 L-0.8,708 L-2.5,709.2 M2.5,706.8 L0.8,708 L2.5,709.2" stroke-width="1.1"/>
</g><g transform="translate(344.3,0)">
<path d="M-6.3,708 C-6.5,705.5 -3.5,704.4 0,704.4 C3.5,704.4 6.5,705.5 6.3,708 C6,710 4,711 3,711.3 L-3,711.3 C-4,711 -6,710 -6.3,708Z" stroke-width="1.4"/>
<path d="M-3,711.5 L-3.1,727.5 L-2.3,729.5 L2.3,729.5 L3.1,727.5 L3,711.5" stroke-width="1.4"/>
<path d="M-3,714 L-0.5,714.6 M-3,716.8 L-0.5,717.4 M-3,719.6 L-0.5,720.2 M-3,722.4 L-0.5,723 M-3,725.2 L-0.5,725.8 M-2.8,727.5 L2.8,727.5 M-2.5,706.8 L-0.8,708 L-2.5,709.2 M2.5,706.8 L0.8,708 L2.5,709.2" stroke-width="1.1"/>
</g><g transform="translate(410,0)">
<path d="M-6.3,708 C-6.5,705.5 -3.5,704.4 0,704.4 C3.5,704.4 6.5,705.5 6.3,708 C6,710 4,711 3,711.3 L-3,711.3 C-4,711 -6,710 -6.3,708Z" stroke-width="1.4"/>
<path d="M-3,711.5 L-3.1,727.5 L-2.3,729.5 L2.3,729.5 L3.1,727.5 L3,711.5" stroke-width="1.4"/>
<path d="M-3,714 L-0.5,714.6 M-3,716.8 L-0.5,717.4 M-3,719.6 L-0.5,720.2 M-3,722.4 L-0.5,723 M-3,725.2 L-0.5,725.8 M-2.8,727.5 L2.8,727.5 M-2.5,706.8 L-0.8,708 L-2.5,709.2 M2.5,706.8 L0.8,708 L2.5,709.2" stroke-width="1.1"/>
</g><g transform="translate(477.5,714.7)">
<ellipse cx="0" cy="0.9" rx="8.4" ry="4.2"/>
<ellipse cx="0" cy="0.2" rx="5.6" ry="2.7" class="dt"/>
<path d="M-5.3,-0.5 C-5.5,-4.5 -3,-6 0,-6 C3,-6 5.5,-4.5 5.3,-0.5" stroke-width="1.3"/>
<path d="M-3.8,-4.5 C-2,-5.8 2,-5.8 3.8,-4.5" stroke-width="1.6"/>
<ellipse cx="0" cy="-3.6" rx="2" ry="1.4" fill="#fff" stroke-width=".7"/>
</g><g transform="translate(542.3,0)">
<path d="M-6.3,708 C-6.5,705.5 -3.5,704.4 0,704.4 C3.5,704.4 6.5,705.5 6.3,708 C6,710 4,711 3,711.3 L-3,711.3 C-4,711 -6,710 -6.3,708Z" stroke-width="1.4"/>
<path d="M-3,711.5 L-3.1,727.5 L-2.3,729.5 L2.3,729.5 L3.1,727.5 L3,711.5" stroke-width="1.4"/>
<path d="M-3,714 L-0.5,714.6 M-3,716.8 L-0.5,717.4 M-3,719.6 L-0.5,720.2 M-3,722.4 L-0.5,723 M-3,725.2 L-0.5,725.8 M-2.8,727.5 L2.8,727.5 M-2.5,706.8 L-0.8,708 L-2.5,709.2 M2.5,706.8 L0.8,708 L2.5,709.2" stroke-width="1.1"/>
</g><g transform="translate(612,714.7)">
<ellipse cx="0" cy="0.9" rx="8.4" ry="4.2"/>
<ellipse cx="0" cy="0.2" rx="5.6" ry="2.7" class="dt"/>
<path d="M-5.3,-0.5 C-5.5,-4.5 -3,-6 0,-6 C3,-6 5.5,-4.5 5.3,-0.5" stroke-width="1.3"/>
<path d="M-3.8,-4.5 C-2,-5.8 2,-5.8 3.8,-4.5" stroke-width="1.6"/>
<ellipse cx="0" cy="-3.6" rx="2" ry="1.4" fill="#fff" stroke-width=".7"/>
</g>
</g>
<!-- table -->
<g class="g">
<path d="M180.5 668V592.5H246.5V668M180.5 614H246.5"/>
<path d="M180.5 668H646.5V743H180.5ZM180.5 689.5H646.5"/>
<path d="M246.5 668V743M311.8 668V743M377.4 668V743M442.6 668V743M508.8 668V743M573.9 668V743"/>
</g>
</svg>
</body></html>
